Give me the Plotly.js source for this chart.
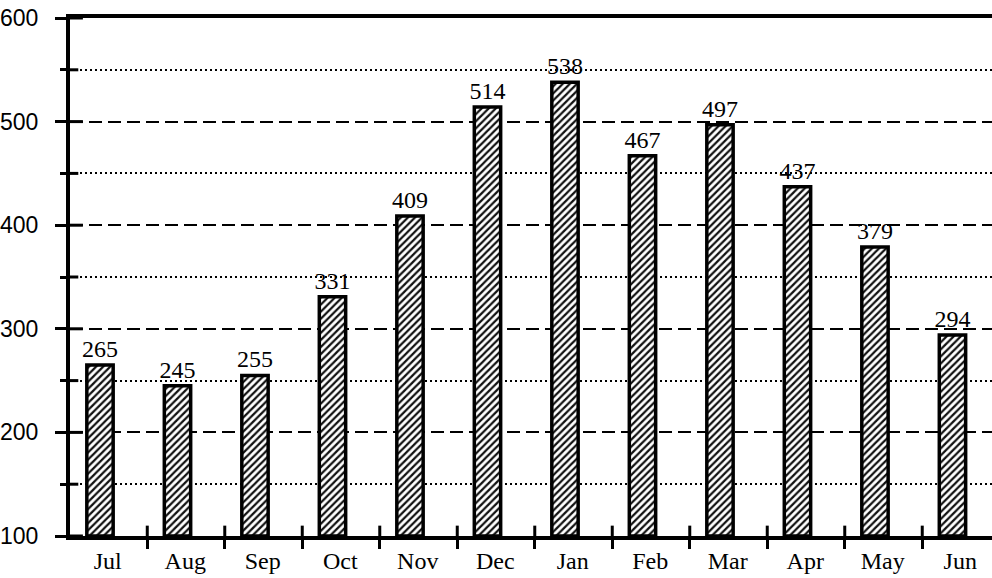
<!DOCTYPE html>
<html>
<head>
<meta charset="utf-8">
<script src="https://cdn.plot.ly/plotly-3.0.1.min.js"></script>
<style>html,body{margin:0;padding:0;background:#fff;}#chart{width:992px;height:578px;}</style>
</head>
<body>
<div id="chart"></div>
<script>
const months = ["Jul","Aug","Sep","Oct","Nov","Dec","Jan","Feb","Mar","Apr","May","Jun"];
const values = [265,245,255,331,409,514,538,467,497,437,379,294];
const yTicks = [100,200,300,400,500,600];
const yMinorTicks = [150,250,350,450,550];

const idx = months.map((m,i)=>i);
const labelPos = idx.map(i=>i+0.1);
const sepPos = idx.slice(0,11).map(i=>i+0.61);

const trace = {
  type:'bar',
  x: idx,
  y: values.map(v=>v-100),
  base: 100,
  width: 0.34,
  text: values.map(String),
  textposition:'outside',
  constraintext:'none',
  cliponaxis:false,
  textfont:{family:'"Liberation Serif", "Times New Roman", serif', size:24, color:'#000'},
  marker:{
    color:'white',
    line:{color:'#000', width:3.5},
    pattern:{shape:'/', size:5, solidity:0.45, fgcolor:'#111', bgcolor:'#fff'}
  },
  hoverinfo:'skip'
};

// tick marks continuing inside the plot (crossing ticks)
const shapes = [];
sepPos.forEach(p=>shapes.push({type:'line', layer:'above', xref:'x', yref:'paper', x0:p, x1:p, y0:0, y1:0.02, line:{color:'#000', width:3}}));
yTicks.forEach(v=>shapes.push({type:'line', layer:'above', xref:'paper', yref:'y', x0:0, x1:0.014, y0:v, y1:v, line:{color:'#000', width:3}}));
yMinorTicks.forEach(v=>shapes.push({type:'line', layer:'above', xref:'paper', yref:'y', x0:0, x1:0.009, y0:v, y1:v, line:{color:'#000', width:3}}));

const layout = {
  width:992, height:578,
  margin:{l:70, r:0, t:18, b:42},
  paper_bgcolor:'#fff', plot_bgcolor:'#fff',
  showlegend:false,
  shapes: shapes,
  xaxis:{
    range:[-0.387, 11.51],
    tickmode:'array', tickvals: labelPos, ticktext: months,
    ticks:'', showgrid:false, zeroline:false,
    showline:true, linecolor:'#000', linewidth:4, mirror:true,
    tickfont:{family:'"Liberation Serif", "Times New Roman", serif', size:24, color:'#000'},
    minor:{tickmode:'array', tickvals: sepPos, ticks:'outside', ticklen:9, tickwidth:3, tickcolor:'#000', showgrid:false},
    ticklabelstandoff:0
  },
  yaxis:{
    range:[100,600],
    tickmode:'linear', tick0:100, dtick:100,
    ticks:'outside', ticklen:11, tickwidth:3, tickcolor:'#000',
    showgrid:true, gridcolor:'#000', gridwidth:2, griddash:'13px,6px',
    zeroline:false, showline:true, linecolor:'#000', linewidth:4,
    tickfont:{family:'"Liberation Sans", Arial, sans-serif', size:23, color:'#000'},
    ticklabelstandoff:12,
    minor:{tick0:150, dtick:100, ticks:'outside', ticklen:6, tickwidth:3, tickcolor:'#000',
           showgrid:true, gridcolor:'#000', gridwidth:2, griddash:'2px,3px'}
  }
};
Plotly.newPlot('chart',[trace],layout,{displayModeBar:false, staticPlot:true});
</script>
</body>
</html>
